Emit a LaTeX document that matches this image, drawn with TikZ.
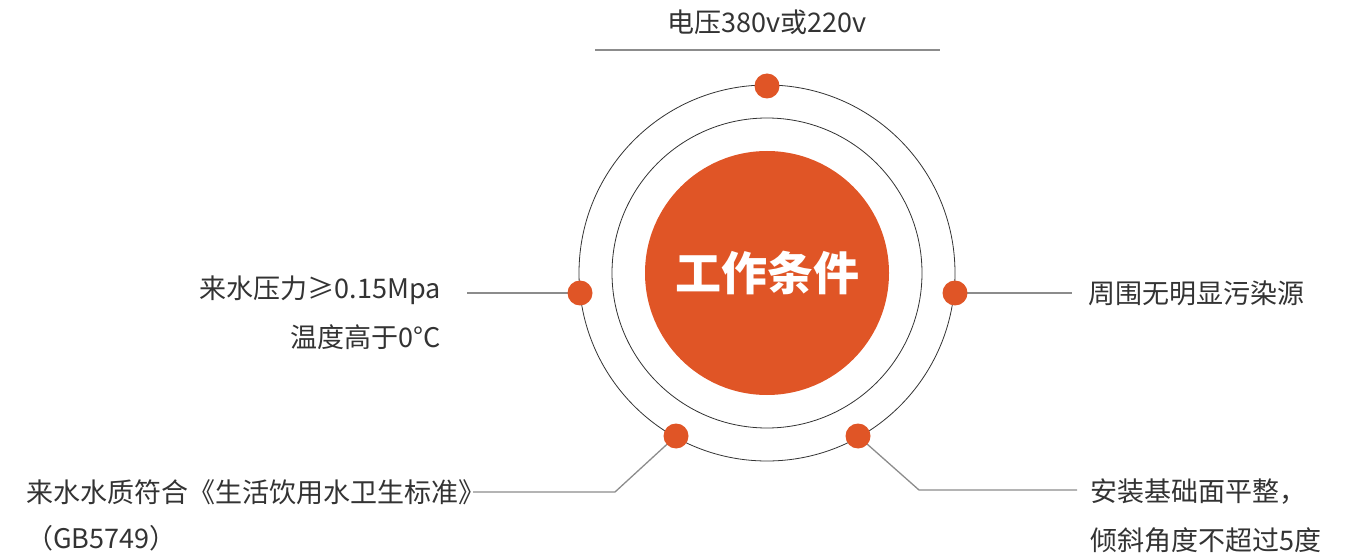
\documentclass[tikz,border=0pt]{standalone}
\usepackage{fontspec}
\setmainfont{Noto Sans CJK SC}
\usetikzlibrary{backgrounds}
\definecolor{org}{HTML}{E05526}
\definecolor{txt}{HTML}{333333}
\definecolor{ln}{HTML}{8C8C8C}
\tikzset{
  dot/.style={circle,fill=org,minimum size=25pt,inner sep=0pt},
  lbl/.style={inner sep=0pt,text=txt,font=\fontsize{27}{32}\selectfont},
  conn/.style={draw=ln,line width=1.3pt},
  ring/.style={draw=txt,line width=0.8pt}
}
\begin{document}
\begin{tikzpicture}[x=1pt,y=-1pt]
\useasboundingbox (0,0) rectangle (1353,556);
\coordinate (O) at (767,273);
\draw[ring] (O) circle[radius=188];
\draw[ring] (O) circle[radius=155];
\node[circle,fill=org,minimum size=244pt,inner sep=0pt,text=white,font=\bfseries\fontsize{46}{52}\selectfont] (core) at (O) {工作条件};
% dots
\node[dot] (dtop) at (767,86) {};
\node[dot] (dl) at (580,293) {};
\node[dot] (dr) at (955,293) {};
\node[dot] (dbl) at (676,436) {};
\node[dot] (dbr) at (858,436) {};
% labels
\node[lbl] (volt) at (767,22) {电压380v或220v};
\node[lbl,anchor=east] (pr) at (441,290) {来水压力≥0.15Mpa};
\node[lbl,anchor=east] (tmp) at (441,337) {温度高于0°C};
\node[lbl,anchor=west] (env) at (1088,293) {周围无明显污染源};
\node[lbl,anchor=west] (wq) at (26,492) {来水水质符合《生活饮用水卫生标准》};
\node[lbl,anchor=west] (gb) at (26,538) {（GB5749）};
\node[lbl,anchor=west] (base) at (1090,492) {安装基础面平整，};
\node[lbl,anchor=west] (tilt) at (1090,540) {倾斜角度不超过5度};
% connector end points
\coordinate (tl) at (595,50);
\coordinate (tr) at (940,50);
\coordinate (lend) at (467,293);
\coordinate (rend) at (1072,293);
\coordinate (blc) at (615,492);
\coordinate (blend) at (473,492);
\coordinate (brc) at (919,490);
\coordinate (brend) at (1077,490);
\begin{scope}[on background layer]
\draw[conn] (tl) -- (tr);
\draw[conn] (dl.center) -- (lend);
\draw[conn] (dr.center) -- (rend);
\draw[conn] (dbl.center) -- (blc) -- (blend);
\draw[conn] (dbr.center) -- (brc) -- (brend);
\end{scope}
\end{tikzpicture}
\end{document}
